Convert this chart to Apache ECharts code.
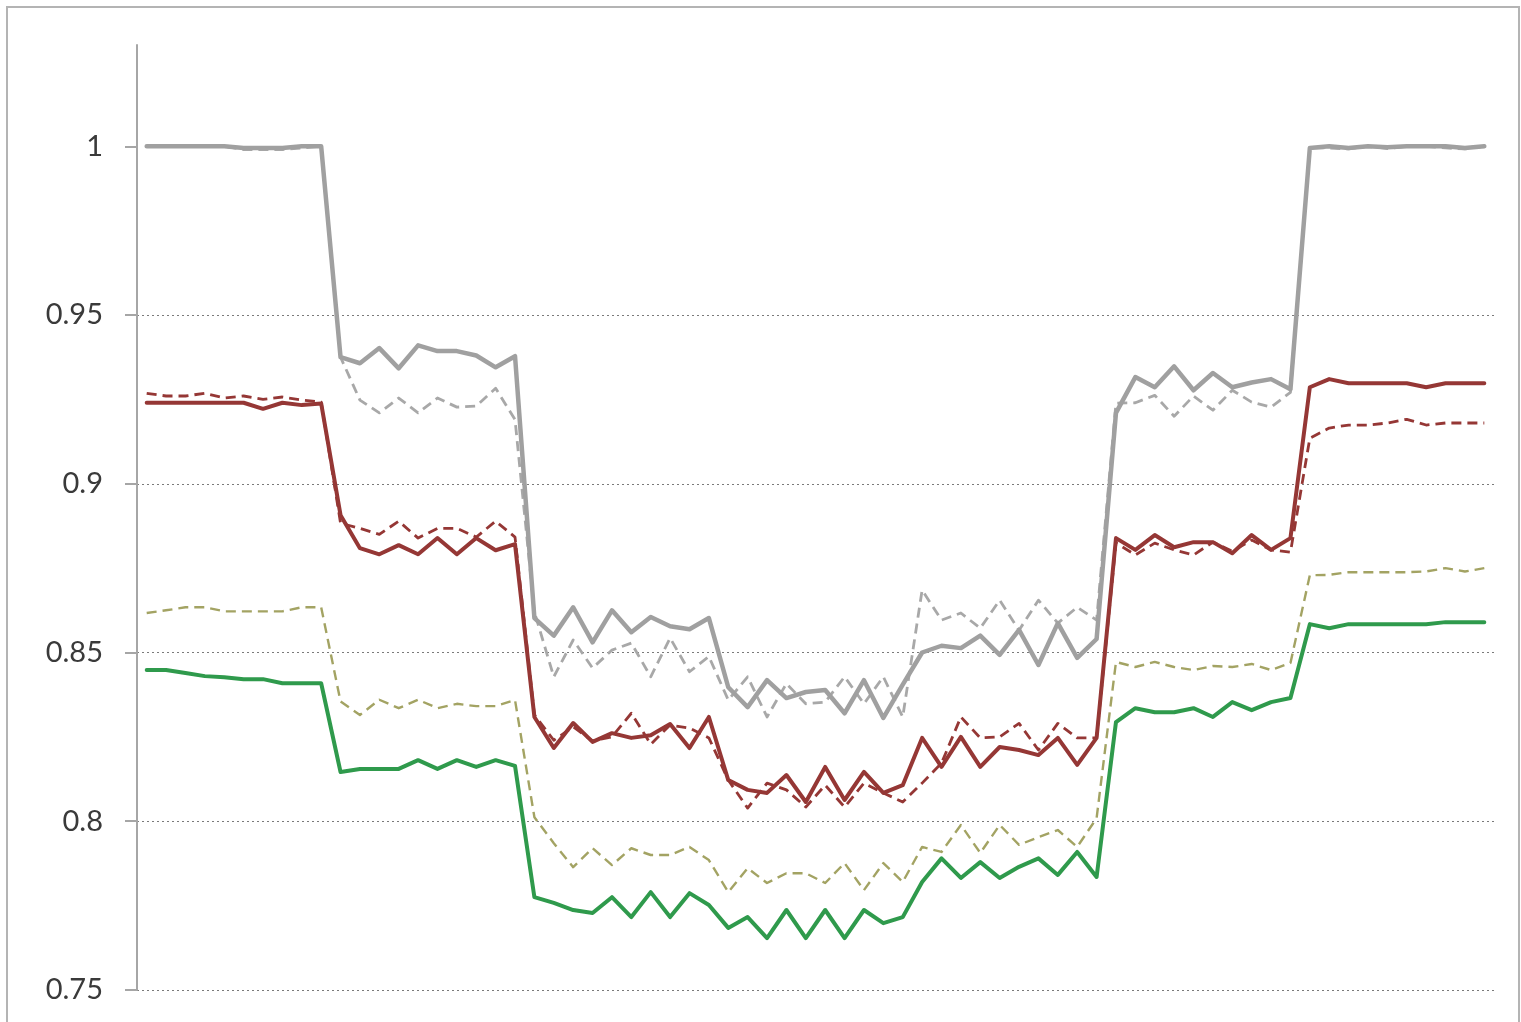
<!DOCTYPE html>
<html>
<head>
<meta charset="utf-8">
<title>chart</title>
<script src="https://cdn.jsdelivr.net/npm/echarts@6/dist/echarts.min.js"></script>
<style>
  html, body { margin: 0; padding: 0; background: #fff; }
  #chart { width: 1521px; height: 1022px; }
</style>
</head>
<body>
<div id="chart"></div>
<script>
// 70 points, 7 steps of 10
var categories = [];
for (var i = 1; i <= 70; i++) categories.push(String(i));

var yTicks = [0.75, 0.8, 0.85, 0.9, 0.95, 1];

var graySolid = [
  1, 1, 1, 1, 1, 0.9995, 0.9995, 0.9995, 1, 1,
  0.9375, 0.9357, 0.9402, 0.9342, 0.941, 0.9393, 0.9393, 0.938, 0.9345, 0.9378,
  0.8602, 0.855, 0.8634, 0.853, 0.8625, 0.856, 0.8605, 0.8578, 0.8569, 0.8602,
  0.8397, 0.8338, 0.8418, 0.8365, 0.8383, 0.8389, 0.832, 0.8418, 0.8306, 0.8405,
  0.85, 0.852, 0.8513, 0.855, 0.8493, 0.8567, 0.8463, 0.8587, 0.8484, 0.854,
  0.921, 0.9316, 0.9286, 0.9348, 0.9277, 0.9328, 0.9286, 0.93, 0.931, 0.928,
  0.9995, 1, 0.9995, 1, 0.9997, 1, 1, 1, 0.9995, 1
];
var grayDash = [
  1, 1, 1, 1, 1, 0.999, 0.999, 0.999, 0.9995, 1,
  0.9375, 0.9248, 0.921, 0.9254, 0.921, 0.9254, 0.9227, 0.923, 0.9283, 0.919,
  0.862, 0.8428, 0.8537, 0.8454, 0.8507, 0.8528, 0.8428, 0.8543, 0.8443, 0.8488,
  0.8359, 0.8428, 0.8309, 0.8408, 0.8348, 0.8353, 0.8428, 0.8348, 0.8428, 0.8309,
  0.8685, 0.8596, 0.8617, 0.8572, 0.8655, 0.8566, 0.8655, 0.8587, 0.8634, 0.8596,
  0.9239, 0.924, 0.9262, 0.92, 0.926, 0.9218, 0.9277, 0.9242, 0.9227, 0.9271,
  0.9995, 0.9995, 0.9992, 1, 0.9993, 1, 1, 0.9995, 0.9992, 1
];
var redSolid = [
  0.924, 0.924, 0.924, 0.924, 0.924, 0.924, 0.9222, 0.924, 0.9233, 0.9238,
  0.8907, 0.8809, 0.8791, 0.8818, 0.8791, 0.8839, 0.8791, 0.8839, 0.8803, 0.8821,
  0.8309, 0.8217, 0.8291, 0.8235, 0.8261, 0.8247, 0.8255, 0.8288, 0.8217, 0.8309,
  0.8122, 0.8093, 0.8084, 0.8137, 0.8057, 0.8161, 0.8063, 0.8146, 0.8084, 0.8107,
  0.8247, 0.8161, 0.825, 0.8161, 0.822, 0.8211, 0.8196, 0.8247, 0.8167, 0.8247,
  0.8839, 0.8804, 0.8848, 0.8812, 0.8827, 0.8827, 0.8794, 0.8848, 0.8804, 0.8839,
  0.9286, 0.931, 0.9298, 0.9298, 0.9298, 0.9298, 0.9286, 0.9298, 0.9298, 0.9298
];
var redDash = [
  0.9268, 0.926, 0.926, 0.9268, 0.9254, 0.926, 0.925, 0.9257, 0.9248, 0.9242,
  0.8883, 0.8868, 0.885, 0.8889, 0.8839, 0.8868, 0.8868, 0.8842, 0.8889, 0.8842,
  0.8315, 0.824, 0.828, 0.8238, 0.825, 0.832, 0.8228, 0.8285, 0.8276, 0.8247,
  0.8122, 0.8039, 0.8113, 0.8093, 0.8042, 0.8107, 0.8042, 0.8113, 0.8084, 0.8057,
  0.8113, 0.8172, 0.8309, 0.8247, 0.825, 0.829, 0.8211, 0.829, 0.8247, 0.8247,
  0.8825, 0.8789, 0.8824, 0.8804, 0.8789, 0.8827, 0.88, 0.8833, 0.8804, 0.8797,
  0.9135, 0.9165, 0.9174, 0.9174, 0.918, 0.9191, 0.9174, 0.918, 0.918, 0.918
];
var greenSolid = [
  0.8448, 0.8448, 0.8439, 0.843, 0.8427, 0.8421, 0.8421, 0.8409, 0.8409, 0.8409,
  0.8146, 0.8155, 0.8155, 0.8155, 0.8181, 0.8155, 0.8181, 0.8161, 0.8181, 0.8164,
  0.7775, 0.7758, 0.7737, 0.7728, 0.7775, 0.7716, 0.779, 0.7716, 0.7787, 0.7752,
  0.7684, 0.7716, 0.7654, 0.7737, 0.7654, 0.7737, 0.7654, 0.7737, 0.7698, 0.7716,
  0.782, 0.789, 0.7832, 0.7879, 0.7832, 0.7865, 0.789, 0.7841, 0.7909, 0.7835,
  0.8294, 0.8335, 0.8323, 0.8323, 0.8335, 0.8309, 0.8353, 0.8329, 0.8353, 0.8365,
  0.8584, 0.8572, 0.8584, 0.8584, 0.8584, 0.8584, 0.8584, 0.859, 0.859, 0.859
];
var oliveDash = [
  0.8617, 0.8625, 0.8634, 0.8634, 0.8622, 0.8622, 0.8622, 0.8622, 0.8634, 0.8634,
  0.8355, 0.8315, 0.836, 0.8335, 0.836, 0.8335, 0.8348, 0.8341, 0.8341, 0.8359,
  0.8012, 0.7935, 0.7864, 0.792, 0.787, 0.792, 0.79, 0.79, 0.7924, 0.7885,
  0.779, 0.7861, 0.7817, 0.7846, 0.7846, 0.7817, 0.7876, 0.7796, 0.7876, 0.782,
  0.7924, 0.7909, 0.7989, 0.7906, 0.7989, 0.793, 0.7953, 0.7974, 0.7924, 0.8009,
  0.8472, 0.8457, 0.8472, 0.8457, 0.8448, 0.846, 0.8457, 0.8466, 0.8448, 0.8469,
  0.8729, 0.873, 0.8738, 0.8738, 0.8738, 0.8738, 0.874, 0.875, 0.874, 0.875
];

function lineSeries(name, data, color, width, dashed) {
  return {
    name: name,
    type: 'line',
    data: data,
    symbol: 'none',
    smooth: false,
    clip: false,
    lineStyle: {
      color: color,
      width: width,
      type: dashed ? [10, 6] : 'solid',
      cap: dashed ? 'butt' : 'round',
      join: 'round'
    }
  };
}

var myChart = echarts.init(document.getElementById('chart'));
myChart.setOption({
  backgroundColor: '#fff',
  animation: false,
  graphic: [{
    type: 'rect',
    shape: { x: 7, y: 7, width: 1512, height: 1040 },
    style: { fill: 'none', stroke: '#b4b4b4', lineWidth: 2 },
    silent: true
  }],
  grid: { left: 137, right: 27, top: 45, bottom: 32 },
  xAxis: {
    type: 'category',
    data: categories,
    boundaryGap: true,
    axisLine: { show: false },
    axisTick: { show: false },
    axisLabel: { show: false },
    splitLine: { show: false }
  },
  yAxis: {
    type: 'value',
    min: 0.75,
    max: 1.03,
    interval: 0.05,
    axisLine: { show: true, lineStyle: { color: '#a6a6a6', width: 2 } },
    axisTick: {
      show: true,
      length: 12,
      customValues: yTicks,
      lineStyle: { color: '#a6a6a6', width: 2 }
    },
    axisLabel: {
      customValues: yTicks,
      margin: 34,
      color: '#3a3a3a',
      fontSize: 29,
      fontFamily: 'Lato, "Open Sans", sans-serif',
      formatter: function (v) { return String(+v.toFixed(2)); }
    },
    splitLine: {
      show: true,
      showMaxLine: false,
      lineStyle: { color: '#7a7a7a', width: 1, type: [2, 3] }
    }
  },
  series: [
    lineSeries('gray dashed', grayDash, '#a8a8a8', 2.8, true),
    lineSeries('gray', graySolid, '#a0a0a0', 4.5, false),
    lineSeries('olive dashed', oliveDash, '#a3a363', 2.4, true),
    lineSeries('green', greenSolid, '#2f9a4c', 4, false),
    lineSeries('red dashed', redDash, '#953735', 2.8, true),
    lineSeries('red', redSolid, '#953735', 4, false)
  ]
});
</script>
</body>
</html>
